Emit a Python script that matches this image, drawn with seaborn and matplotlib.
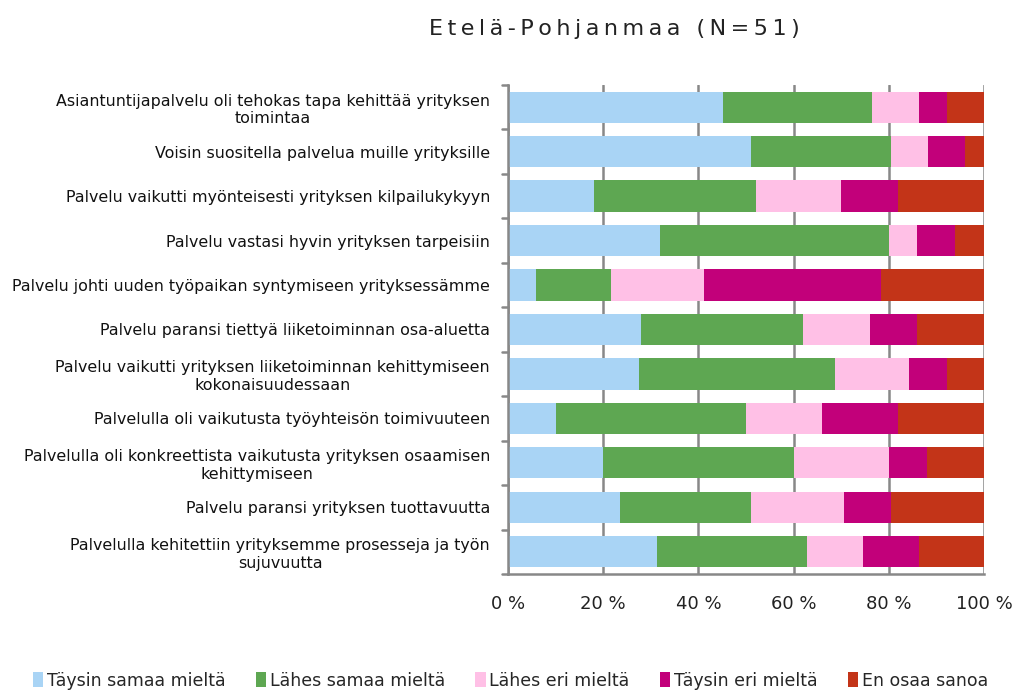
import numpy as np
import pandas as pd
import matplotlib
matplotlib.use("Agg")
import matplotlib.pyplot as plt
import seaborn as sns

# statements, top to bottom
statements = [
    "Asiantuntijapalvelu oli tehokas tapa kehittää yrityksen\ntoimintaa",
    "Voisin suositella palvelua muille yrityksille",
    "Palvelu vaikutti myönteisesti yrityksen kilpailukykyyn",
    "Palvelu vastasi hyvin yrityksen tarpeisiin",
    "Palvelu johti uuden työpaikan syntymiseen yrityksessämme",
    "Palvelu paransi tiettyä liiketoiminnan osa-aluetta",
    "Palvelu vaikutti yrityksen liiketoiminnan kehittymiseen\nkokonaisuudessaan",
    "Palvelulla oli vaikutusta työyhteisön toimivuuteen",
    "Palvelulla oli konkreettista vaikutusta yrityksen osaamisen\nkehittymiseen",
    "Palvelu paransi yrityksen tuottavuutta",
    "Palvelulla kehitettiin yrityksemme prosesseja ja työn\nsujuvuutta",
]

categories = ["Täysin samaa mieltä", "Lähes samaa mieltä", "Lähes eri mieltä",
              "Täysin eri mieltä", "En osaa sanoa"]

# percentages per answer category
taysin_samaa = [45.10, 50.98, 18.0, 32.0, 5.88, 28.0, 27.45, 10.0, 20.0, 23.53, 31.37]
lahes_samaa = [31.37, 29.41, 34.0, 48.0, 15.69, 34.0, 41.18, 40.0, 40.0, 27.45, 31.37]
lahes_eri = [9.80, 7.84, 18.0, 6.0, 19.61, 14.0, 15.69, 16.0, 20.0, 19.61, 11.76]
taysin_eri = [5.88, 7.84, 12.0, 8.0, 37.25, 10.0, 7.84, 16.0, 8.0, 9.80, 11.76]
en_osaa = [7.84, 3.92, 18.0, 6.0, 21.57, 14.0, 7.84, 18.0, 12.0, 19.61, 13.73]

colors = ["#A9D4F5", "#5EA752", "#FFC0E6", "#C2007A", "#C33418"]

df = pd.DataFrame({"statement": statements})
series = [taysin_samaa, lahes_samaa, lahes_eri, taysin_eri, en_osaa]
for cat, vals in zip(categories, series):
    df[cat] = vals
cum = df[categories].cumsum(axis=1)

sns.set_style("white")
plt.rcParams["font.family"] = ["DejaVu Sans"]

fig = plt.figure(figsize=(10.15, 6.9), dpi=100)
ax = fig.add_axes([0.5005, 0.168, 0.469, 0.709])

# draw stacked bars: widest (cumulative) first
for i in range(len(categories) - 1, -1, -1):
    sns.barplot(x=cum[categories[i]], y=df["statement"], color=colors[i],
                orient="h", width=0.70, ax=ax, label=categories[i],
                edgecolor="none", saturation=1)

ax.set_xlim(0, 100)
ax.set_ylim(len(statements) - 0.5, -0.5)
ax.set_xticks(np.arange(0, 101, 20))
ax.set_xticklabels([f"{v} %" for v in range(0, 101, 20)], fontsize=13, color="#222222")
ax.set_xlabel("")
ax.set_ylabel("")
ax.tick_params(axis="y", labelsize=11.4, length=0, pad=13, labelcolor="#111111")
for lab in ax.get_yticklabels():
    lab.set_multialignment("center")

# gridlines behind bars
ax.set_axisbelow(True)
ax.xaxis.grid(True, color="#888888", linewidth=1.8)
ax.tick_params(axis="x", length=6, width=1.8, color="#888888", direction="out", pad=9)

# category boundary ticks on y axis
for b in np.arange(-0.5, len(statements), 1):
    ax.plot([-0.012, 0], [b, b], transform=ax.get_yaxis_transform(), color="#888888",
            linewidth=1.8, clip_on=False)

for s in ["top", "right"]:
    ax.spines[s].set_visible(False)
for s in ["left", "bottom"]:
    ax.spines[s].set_color("#888888")
    ax.spines[s].set_linewidth(1.8)

title = "\u2009".join("Etelä-Pohjanmaa (N=51)")
fig.suptitle(title, x=0.605, y=0.973, fontsize=16, color="#222222")

handles, labels = ax.get_legend_handles_labels()
order = [labels.index(c) for c in categories]
leg = fig.legend([handles[k] for k in order], [labels[k] for k in order],
                 loc="lower center", bbox_to_anchor=(0.503, -0.022), ncol=5, frameon=False,
                 fontsize=12.5, handlelength=0.6, handleheight=0.9, handletextpad=0.2,
                 columnspacing=1.75)
if ax.get_legend() is not None:
    ax.get_legend().remove()

fig.savefig("out.png", dpi=100)
